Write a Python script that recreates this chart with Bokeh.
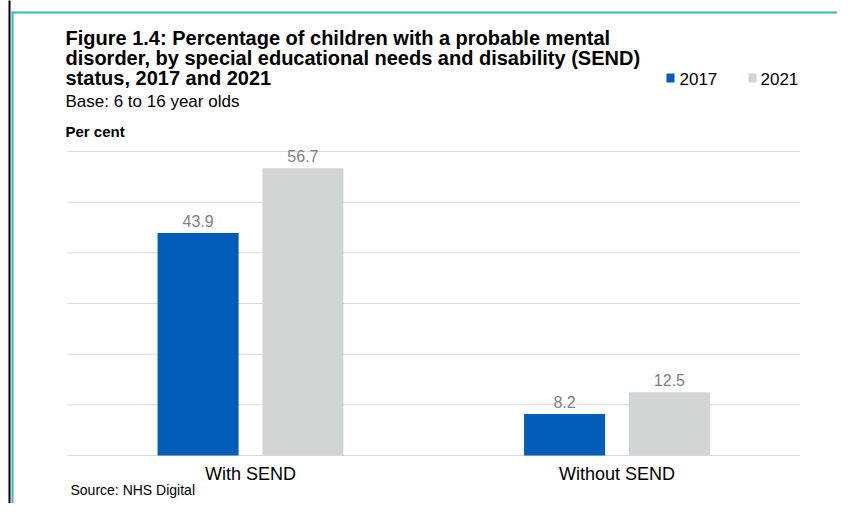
from bokeh.plotting import figure
from bokeh.models import ColumnDataSource, Label, LabelSet, BoxAnnotation, Range1d
from bokeh.core.properties import value
from bokeh.embed import file_html
from bokeh.resources import INLINE

categories = ["With SEND", "Without SEND"]
years = ["2017", "2021"]
values_2017 = [43.9, 8.2]
values_2021 = [56.7, 12.5]
y_ticks = [0, 10, 20, 30, 40, 50, 60]

BLUE = "#005EB8"
GREY = "#D0D5D6"
TEAL = "#3DB4C4"
FONT = "Liberation Sans"

W, H = 837, 503
# frame fills the canvas; category i sits at x=i, value 0 at pixel row 455, 60 at row 151
PX_PER_CAT = 366.5
CAT0_PX = 250.0
PX_PER_UNIT = (455 - 151) / 60.0
x_range = Range1d(-CAT0_PX / PX_PER_CAT, (W - CAT0_PX) / PX_PER_CAT)
y_range = Range1d(-(H - 455) / PX_PER_UNIT, 60 + 151 / PX_PER_UNIT)

p = figure(width=W, height=H, x_range=x_range, y_range=y_range, title=None,
           output_backend="svg", toolbar_location=None,
           min_border=0, min_border_left=0, min_border_right=0,
           min_border_top=0, min_border_bottom=0)
p.outline_line_color = None
p.xaxis.visible = False
p.yaxis.visible = False
p.xgrid.visible = False
p.ygrid.visible = False

xpos = list(range(len(categories)))
OFF, BW = 0.143, 0.221

# gridlines across the plot area (categories +/- half a slot)
p.segment(x0=[xpos[0] - 0.5] * len(y_ticks), x1=[xpos[-1] + 0.5] * len(y_ticks),
          y0=y_ticks, y1=y_ticks, line_color="#D9D9D9", line_width=1)

src = ColumnDataSource(dict(x=xpos, cat=categories, v2017=values_2017, v2021=values_2021,
                            x2017=[x - OFF for x in xpos], x2021=[x + OFF for x in xpos],
                            l2017=[f"{v:.1f}" for v in values_2017],
                            l2021=[f"{v:.1f}" for v in values_2021]))

p.vbar(x="x2017", top="v2017", width=BW, source=src, fill_color=BLUE, line_color=None)
p.vbar(x="x2021", top="v2021", width=BW, source=src, fill_color=GREY, line_color=None)

for xc, col, lab in (("x2017", "v2017", "l2017"), ("x2021", "v2021", "l2021")):
    p.add_layout(LabelSet(x=xc, y=col, text=lab, source=src,
                          text_align="center", text_baseline="bottom", y_offset=6,
                          text_font=value(FONT), text_font_size="16px", text_color="#7F7F7F"))

# category labels under the baseline
p.text(x="x", y=0, text="cat", source=src, text_align="center", text_baseline="top",
       y_offset=8, text_font=value(FONT), text_font_size="18px", text_color="#000000")


def label(X, Y, text, size, bold=False, color="#000000"):
    p.add_layout(Label(x=X, y=H - Y, x_units="screen", y_units="screen", text=text,
                       text_font=FONT, text_font_size=size, text_baseline="middle",
                       text_font_style="bold" if bold else "normal", text_color=color))


def box(X0, X1, Y0, Y1, color):
    p.add_layout(BoxAnnotation(left=X0, right=X1, top=H - Y0, bottom=H - Y1,
                               left_units="screen", right_units="screen",
                               top_units="screen", bottom_units="screen",
                               fill_color=color, fill_alpha=1, line_color=None))


# page borders
box(8, 10, -2, H + 2, "#000000")
box(11, 13, 11, H + 2, TEAL)
box(11, W + 2, 11, 13, TEAL)

label(65, 37, "Figure 1.4: Percentage of children with a probable mental", "20px", True)
label(65, 57, "disorder, by special educational needs and disability (SEND)", "20px", True)
label(65, 77, "status, 2017 and 2021", "20px", True)
label(65, 101, "Base: 6 to 16 year olds", "17px")
label(65, 131, "Per cent", "15px", True)
label(70, 489, "Source: NHS Digital", "14px")

# legend
box(666, 674, 73, 82, BLUE)
label(679, 78, years[0], "17px")
box(748, 756, 73, 82, GREY)
label(760, 78, years[1], "17px")

open("out.html", "w").write(file_html(p, INLINE))
